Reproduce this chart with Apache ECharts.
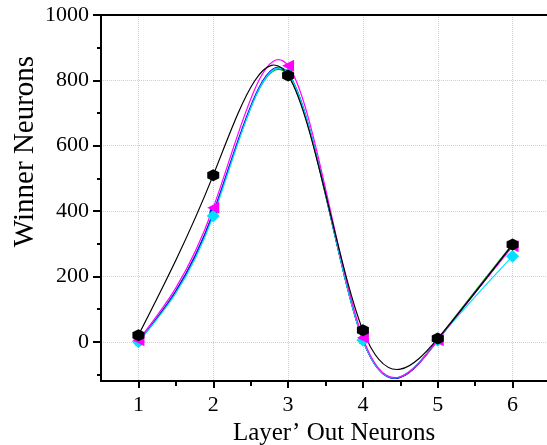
<!DOCTYPE html>
<html>
<head>
<meta charset="utf-8">
<script src="https://cdn.jsdelivr.net/npm/echarts@6/dist/echarts.min.js"></script>
<style>
html,body{margin:0;padding:0;background:#fff;}
#chart{width:547px;height:445px;}
</style>
</head>
<body>
<div id="chart"></div>
<script>
// Data
const xValues = [1, 2, 3, 4, 5, 6];
const redValues = [0, 392, 818, 5, 5, 295];
const greenValues = [0, 393, 815, 5, 8, 300];
const blueValues = [0, 395, 822, 5, 5, 295];
const cyanValues = [0, 385, 820, 5, 5, 262];
const magentaValues = [5, 410, 845, 12, 5, 292];
const blackValues = [20, 510, 815, 35, 10, 298];

const xTickLabels = [1, 2, 3, 4, 5, 6];
const xMinorTicks = [1.5, 2.5, 3.5, 4.5, 5.5];
const yTickLabels = [0, 200, 400, 600, 800, 1000];
const yMinorTicks = [-100, 100, 300, 500, 700, 900];

const FONT = 'Liberation Serif';
const hexagon = 'path://M50 0 L93.3 25 L93.3 75 L50 100 L6.7 75 L6.7 25 Z';

// natural cubic spline second derivatives (used only to shape the connecting curve)
function splineM(xs, ys) {
  const n = xs.length;
  const M = new Array(n).fill(0);
  if (n < 3) return M;
  const a = [], b = [], c = [], d = [];
  for (let i = 1; i < n - 1; i++) {
    const h0 = xs[i] - xs[i - 1], h1 = xs[i + 1] - xs[i];
    a.push(h0); b.push(2 * (h0 + h1)); c.push(h1);
    d.push(6 * ((ys[i + 1] - ys[i]) / h1 - (ys[i] - ys[i - 1]) / h0));
  }
  const m = b.length;
  for (let i = 1; i < m; i++) {
    const w = a[i] / b[i - 1];
    b[i] -= w * c[i - 1];
    d[i] -= w * d[i - 1];
  }
  const sol = new Array(m);
  sol[m - 1] = d[m - 1] / b[m - 1];
  for (let i = m - 2; i >= 0; i--) sol[i] = (d[i] - c[i] * sol[i + 1]) / b[i];
  for (let i = 0; i < m; i++) M[i + 1] = sol[i];
  return M;
}

function curveSeries(name, ys, color) {
  const M = splineM(xValues, ys);
  const segs = [];
  for (let i = 0; i < xValues.length - 1; i++) {
    segs.push([xValues[i], ys[i], xValues[i + 1], ys[i + 1], i]);
  }
  return {
    name: name + '-curve',
    type: 'custom',
    data: segs,
    clip: true,
    z: 2,
    silent: true,
    encode: { x: [0, 2], y: [1, 3] },
    renderItem: function (params, api) {
      const i = api.value(4);
      const x0 = api.value(0), y0 = api.value(1), x1 = api.value(2), y1 = api.value(3);
      const h = x1 - x0, s = (y1 - y0) / h;
      const d0 = s - h * (2 * M[i] + M[i + 1]) / 6;
      const d1 = s + h * (M[i] + 2 * M[i + 1]) / 6;
      const p0 = api.coord([x0, y0]);
      const c1 = api.coord([x0 + h / 3, y0 + d0 * h / 3]);
      const c2 = api.coord([x1 - h / 3, y1 - d1 * h / 3]);
      const p1 = api.coord([x1, y1]);
      const cs = params.coordSys;
      return {
        type: 'group',
        clipPath: { type: 'rect', shape: { x: cs.x, y: cs.y, width: cs.width, height: cs.height } },
        children: [{
          type: 'bezierCurve',
          shape: { x1: p0[0], y1: p0[1], x2: p1[0], y2: p1[1], cpx1: c1[0], cpy1: c1[1], cpx2: c2[0], cpy2: c2[1] },
          style: { stroke: color, lineWidth: 1.2, fill: null }
        }]
      };
    }
  };
}

function markerSeries(name, ys, color, symbol, size, extra) {
  return Object.assign({
    name: name,
    type: 'line',
    data: xValues.map((x, i) => [x, ys[i]]),
    symbol: symbol,
    symbolSize: size,
    showSymbol: true,
    lineStyle: { width: 0, opacity: 0 },
    itemStyle: { color: color, borderWidth: 0 },
    z: 3
  }, extra || {});
}

const series = [
  curveSeries('red', redValues, '#e00000'),
  curveSeries('green', greenValues, '#00b000'),
  curveSeries('blue', blueValues, '#1010ff'),
  curveSeries('cyan', cyanValues, '#00e0ff'),
  curveSeries('magenta', magentaValues, '#ff00ff'),
  curveSeries('black', blackValues, '#000000'),
  markerSeries('red', redValues, '#e00000', 'circle', 7, { itemStyle: { color: '#fff', borderColor: '#e00000', borderWidth: 1 } }),
  markerSeries('green', greenValues, '#00b000', 'circle', 7, { itemStyle: { color: '#fff', borderColor: '#00b000', borderWidth: 1 } }),
  markerSeries('blue', blueValues, '#1010ff', 'rect', 7),
  markerSeries('cyan', cyanValues, '#00e0ff', 'diamond', 13),
  markerSeries('magenta', magentaValues, '#ff00ff', 'triangle', 12, { symbolRotate: 90 }),
  markerSeries('black', blackValues, '#000000', hexagon, 12)
];

const chart = echarts.init(document.getElementById('chart'), null, { renderer: 'canvas' });
chart.setOption({
  animation: false,
  backgroundColor: '#fff',
  grid: { left: 101, top: 15, width: 449, height: 366, show: false, containLabel: false, outerBoundsMode: 'none' },
  xAxis: [
    {
      type: 'value', min: 0.5, max: 6.5,
      name: 'Layer\u2019 Out Neurons', nameLocation: 'middle', nameGap: 36,
      nameTextStyle: { fontFamily: FONT, fontSize: 25, color: '#000', padding: [0, 0, 0, 17] },
      axisLine: { show: true, onZero: false, lineStyle: { color: '#000', width: 2 } },
      axisTick: { show: true, inside: false, length: 7, customValues: xTickLabels, lineStyle: { color: '#000', width: 2 } },
      axisLabel: { customValues: xTickLabels, fontFamily: FONT, fontSize: 22, color: '#000', margin: 13 },
      splitLine: { show: true, lineStyle: { color: '#cfcfcf', type: 'dotted', width: 1 } }
    },
    {
      type: 'value', min: 0.5, max: 6.5, position: 'bottom',
      axisLine: { show: false, onZero: false },
      axisTick: { show: true, inside: false, length: 5, customValues: xMinorTicks, lineStyle: { color: '#000', width: 2 } },
      axisLabel: { show: false },
      splitLine: { show: false }
    },
    {
      type: 'value', min: 0.5, max: 6.5, position: 'top',
      axisLine: { show: true, onZero: false, lineStyle: { color: '#000', width: 2 } },
      axisTick: { show: false },
      axisLabel: { show: false },
      splitLine: { show: false }
    }
  ],
  yAxis: [
    {
      type: 'value', min: -120, max: 1000,
      name: 'Winner Neurons', nameLocation: 'middle', nameGap: 61, nameMoveOverlap: false,
      nameTextStyle: { fontFamily: FONT, fontSize: 29, color: '#000', padding: [0, 0, 0, 93] },
      axisLine: { show: true, onZero: false, lineStyle: { color: '#000', width: 2 } },
      axisTick: { show: true, inside: false, length: 8, customValues: yTickLabels, lineStyle: { color: '#000', width: 2 } },
      axisLabel: { customValues: yTickLabels, formatter: v => String(v), fontFamily: FONT, fontSize: 22, color: '#000', margin: 12 },
      splitLine: { show: true, lineStyle: { color: '#cfcfcf', type: 'dotted', width: 1 } }
    },
    {
      type: 'value', min: -120, max: 1000, position: 'left',
      axisLine: { show: false, onZero: false },
      axisTick: { show: true, inside: false, length: 4, customValues: yMinorTicks, lineStyle: { color: '#000', width: 2 } },
      axisLabel: { show: false },
      splitLine: { show: false }
    }
  ],
  series: series
});
</script>
</body>
</html>
